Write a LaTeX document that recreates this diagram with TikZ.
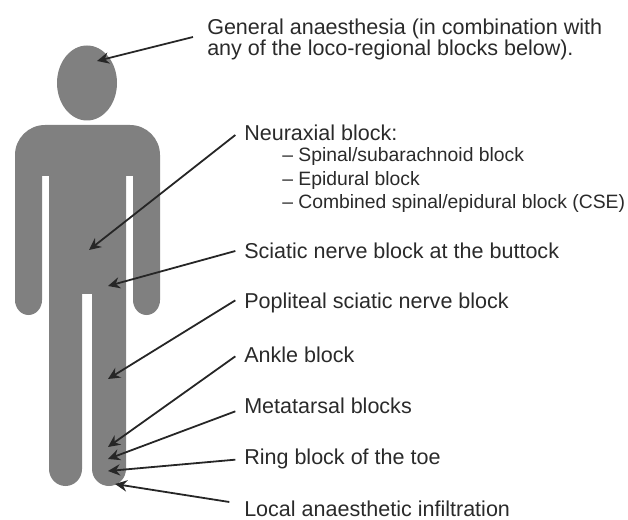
\documentclass[tikz,border=0pt]{standalone}
\usepackage{fontspec}
\setmainfont{Liberation Sans}
\usetikzlibrary{arrows.meta,positioning}
\definecolor{BodyGrey}{HTML}{808080}
\definecolor{LabelInk}{HTML}{2A2A2A}
\tikzset{
  label text/.style={anchor=west,inner sep=0pt,text=LabelInk,font=\fontsize{16.15pt}{15.75pt}\selectfont,align=left},
  sub text/.style={anchor=west,inner sep=0pt,text=LabelInk,font=\fontsize{14.5pt}{16pt}\selectfont},
  pointer/.style={-{Stealth[length=9pt,width=8.5pt,inset=3pt]},line width=1.35pt,black!85}
}
\begin{document}
\begin{tikzpicture}[x=0.75pt,y=-0.75pt]
    \useasboundingbox (0,0) rectangle (628,520);
    % figure
    \fill[BodyGrey] (87,83) ellipse [x radius=30,y radius=37.5];
    \fill[BodyGrey] (45,125) -- (130,125) arc [start angle=-90,end angle=0,radius=30]
      -- (160,300) arc [start angle=0,end angle=180,x radius=13.5,y radius=15]
      -- (133,176) -- (126,176) -- (126,469)
      arc [start angle=0,end angle=90,radius=17]
      arc [start angle=90,end angle=180,radius=17] -- (92,294) -- (82,294) -- (82,469)
      arc [start angle=0,end angle=180,x radius=16.5,y radius=17] -- (49,176) -- (42,176) -- (42,300)
      arc [start angle=0,end angle=180,x radius=13.5,y radius=15] -- (15,155)
      arc [start angle=180,end angle=270,radius=30] -- cycle;
    % labels
    \node[label text] (general) at (207,39)
      {General anaesthesia (in combination with\\any of the loco-regional blocks below).};
    \node[label text] (neuraxial) at (244,133) {Neuraxial block:};
    \node[sub text] (spinal) at (282,157) {-- Spinal/subarachnoid block};
    \node[sub text] (epidural) at (282,181) {-- Epidural block};
    \node[sub text] (combined) at (282,204) {-- Combined spinal/epidural block (CSE)};
    \node[label text] (sciatic) at (244,251) {Sciatic nerve block at the buttock};
    \node[label text] (popliteal) at (244,303) {Popliteal sciatic nerve block};
    \node[label text] (ankle) at (244,355) {Ankle block};
    \node[label text] (metatarsal) at (244,406) {Metatarsal blocks};
    \node[label text] (ring) at (244,459) {Ring block of the toe};
    \node[label text] (local) at (244,509) {Local anaesthetic infiltration};
    % targets on the figure
    \coordinate (headpt) at (97,61);
    \coordinate (backpt) at (89,250);
    \coordinate (buttockpt) at (108,286);
    \coordinate (kneept) at (108,379);
    \coordinate (anklept) at (108,447);
    \coordinate (footpt) at (108,459);
    \coordinate (toept) at (108,471);
    \coordinate (skinpt) at (115,484);
    % arrows
    \draw[pointer] ([xshift=-10.5pt,yshift=1.5pt]general.west) -- (headpt);
    \draw[pointer] ([xshift=-6.5pt,yshift=-1.5pt]neuraxial.west) -- (backpt);
    \draw[pointer] ([xshift=-6.5pt]sciatic.west) -- (buttockpt);
    \draw[pointer] ([xshift=-6.5pt,yshift=2pt]popliteal.west) -- (kneept);
    \draw[pointer] ([xshift=-6.5pt,yshift=-1pt]ankle.west) -- (anklept);
    \draw[pointer] ([xshift=-6.5pt,yshift=-4pt]metatarsal.west) -- (footpt);
    \draw[pointer] ([xshift=-6.5pt,yshift=-.5pt]ring.west) -- (toept);
    \draw[pointer] ([xshift=-11pt,yshift=5.25pt]local.west) -- (skinpt);
\end{tikzpicture}
\end{document}
